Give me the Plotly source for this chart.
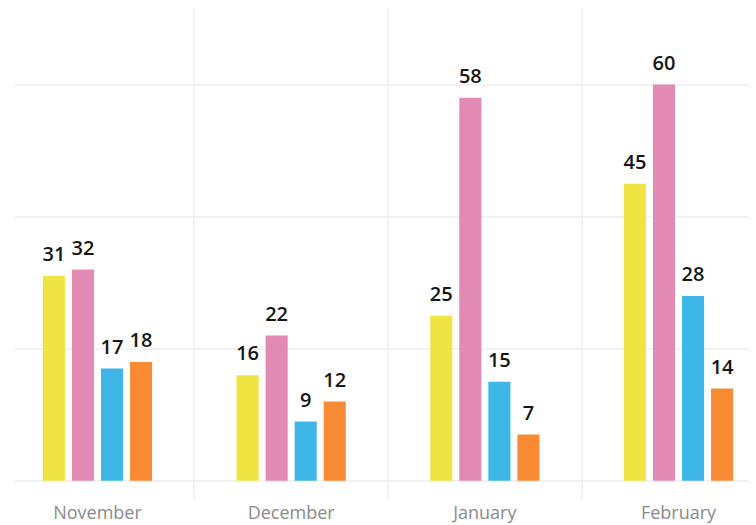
import plotly.graph_objects as go

months = ["November", "December", "January", "February"]
series_a = [31, 16, 25, 45]
series_b = [32, 22, 58, 60]
series_c = [17, 9, 15, 28]
series_d = [18, 12, 7, 14]
colors = ["#F0E443", "#E289B4", "#3EB6E8", "#F98A34"]
x = list(range(len(months)))
names = ["a", "b", "c", "d"]

fig = go.Figure()
for nm, vals, col in zip(names, [series_a, series_b, series_c, series_d], colors):
    fig.add_trace(go.Bar(
        x=x, y=vals, offsetgroup=nm, marker=dict(color=col, line=dict(width=0)),
        showlegend=False, hoverinfo="y",
    ))
for nm, vals in zip(names, [series_a, series_b, series_c, series_d]):
    fig.add_trace(go.Scatter(
        x=x, y=vals, offsetgroup=nm, mode="markers+text",
        marker=dict(size=14, opacity=0),
        text=[str(v) for v in vals], textposition="top center",
        textfont=dict(family="Open Sans", size=20, color="#161616", weight=600),
        cliponaxis=False, showlegend=False, hoverinfo="skip",
    ))

fig.update_layout(
    width=748, height=517,
    margin=dict(l=6, r=0, t=0, b=25),
    paper_bgcolor="white", plot_bgcolor="white",
    barmode="group", bargap=0.40, bargroupgap=0.24,
    scattermode="group", scattergap=0.40,
    xaxis=dict(
        range=[-0.431, 3.40], tickvals=x, ticktext=months,
        showgrid=False, zeroline=False, showline=False, automargin=False,
        tickfont=dict(family="Open Sans", size=18, color="#8a8a8a"),
        ticks="", ticklen=0,
        minor=dict(tick0=0.5, dtick=1, showgrid=True, gridcolor="#f2f2f2", gridwidth=2),
    ),
    yaxis=dict(
        range=[-2.9, 71.6], tickvals=[0, 20, 40, 60], showticklabels=False,
        showgrid=True, gridcolor="#f2f2f2", gridwidth=2, zeroline=False, automargin=False,
    ),
)
fig.write_html("out.html")
